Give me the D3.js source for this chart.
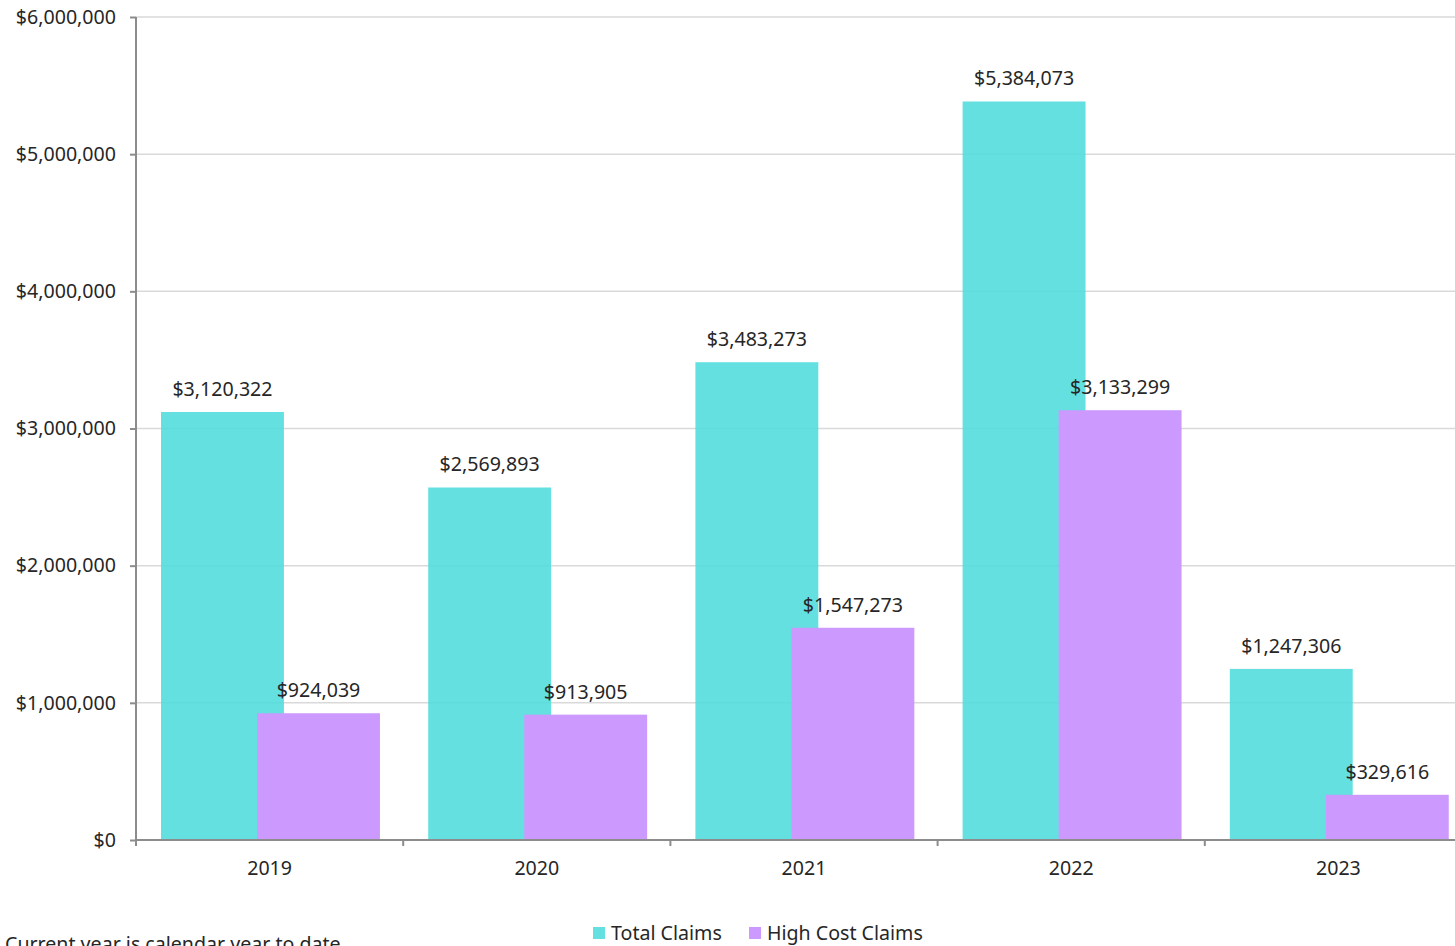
<!DOCTYPE html>
<html>
<head>
<meta charset="utf-8">
<script src="https://cdn.jsdelivr.net/npm/d3@7"></script>
<style>
  html, body { margin: 0; padding: 0; background: #fff; overflow: hidden; }
  svg { display: block; }
  text { font-family: "Noto Sans", "Open Sans", sans-serif; fill: #262626; }
</style>
</head>
<body>
<svg id="chart" width="1455" height="946"></svg>
<script>
// Claims by year
const years = ["2019", "2020", "2021", "2022", "2023"];
const totalClaims = [3120322, 2569893, 3483273, 5384073, 1247306];
const highCostClaims = [924039, 913905, 1547273, 3133299, 329616];
const yTicks = [0, 1000000, 2000000, 3000000, 4000000, 5000000, 6000000];
const seriesNames = ["Total Claims", "High Cost Claims"];
const seriesColors = ["#4fdcdc", "#cc99ff"];
const footnote = "Current year is calendar year to date";

const svg = d3.select("#chart");
const margin = { left: 136, top: 17, bottom: 106 };
const plotW = 1336; // extends past the right edge of the view
const plotH = 946 - margin.top - margin.bottom;

const x = d3.scaleBand().domain(years).range([margin.left, margin.left + plotW]);
const y = d3.scaleLinear().domain([0, 6000000]).range([margin.top + plotH, margin.top]);

const fmt = d => "$" + d3.format(",")(d);
const fontSize = "19.6px";

// gridlines
svg.append("g")
  .selectAll("line")
  .data(yTicks.filter(d => d > 0))
  .join("line")
  .attr("x1", margin.left).attr("x2", margin.left + plotW)
  .attr("y1", d => y(d)).attr("y2", d => y(d))
  .attr("stroke", "#d9d9d9").attr("stroke-width", 1.5);

// bars: each bar is 46% of the band; the two series overlap slightly
const bw = x.bandwidth();
const barW = bw * 0.46;
const offsets = [bw * 0.0936, bw * 0.453];

const series = [totalClaims, highCostClaims];
series.forEach((vals, si) => {
  const g = svg.append("g");
  g.selectAll("rect")
    .data(vals.map((v, i) => ({ v, year: years[i] })))
    .join("rect")
    .attr("x", d => x(d.year) + offsets[si])
    .attr("width", barW)
    .attr("y", d => y(d.v))
    .attr("height", d => y(0) - y(d.v))
    .attr("fill", seriesColors[si])
    .attr("fill-opacity", si === 0 ? 0.88 : 1);
});

// value labels above bars
series.forEach((vals, si) => {
  svg.append("g")
    .selectAll("text")
    .data(vals.map((v, i) => ({ v, year: years[i] })))
    .join("text")
    .attr("x", d => x(d.year) + offsets[si] + barW / 2)
    .attr("y", d => y(d.v) - 16)
    .attr("text-anchor", "middle")
    .style("font-size", fontSize)
    .text(d => fmt(d.v));
});

// y axis
const yAxis = d3.axisLeft(y).tickValues(yTicks).tickFormat(fmt).tickSize(6).tickPadding(14);
const gy = svg.append("g").attr("transform", `translate(${margin.left},0)`).call(yAxis);
gy.select(".domain").attr("stroke", "#8c8c8c").attr("stroke-width", 2).attr("d", `M0,${margin.top}V${y(0)}`);
gy.selectAll(".tick line").attr("stroke", "#8c8c8c").attr("stroke-width", 2);
gy.selectAll(".tick text").style("font-size", fontSize).attr("fill", "#262626");

// x axis with ticks at band boundaries
const gx = svg.append("g").attr("transform", `translate(0,${y(0)})`);
gx.append("line")
  .attr("x1", margin.left).attr("x2", margin.left + plotW)
  .attr("stroke", "#8c8c8c").attr("stroke-width", 2);
gx.selectAll(".bt")
  .data(years.map(d => x(d)).concat([margin.left + plotW]))
  .join("line")
  .attr("x1", d => d).attr("x2", d => d)
  .attr("y1", 0).attr("y2", 6)
  .attr("stroke", "#8c8c8c").attr("stroke-width", 2);
gx.selectAll("text")
  .data(years)
  .join("text")
  .attr("x", d => x(d) + bw / 2)
  .attr("y", 35)
  .attr("text-anchor", "middle")
  .style("font-size", fontSize)
  .text(d => d);

// legend
const legend = svg.append("g").attr("transform", "translate(593,933)");
const legendX = [0, 156];
seriesNames.forEach((name, i) => {
  const lg = legend.append("g").attr("transform", `translate(${legendX[i]},0)`);
  lg.append("rect").attr("x", 0).attr("y", -6).attr("width", 12).attr("height", 12)
    .attr("fill", seriesColors[i]).attr("fill-opacity", i === 0 ? 0.88 : 1);
  lg.append("text").attr("x", 18).attr("y", 7).style("font-size", fontSize).text(name);
});

// footnote
svg.append("text").attr("x", 5).attr("y", 951).style("font-size", fontSize).text(footnote);
</script>
</body>
</html>
